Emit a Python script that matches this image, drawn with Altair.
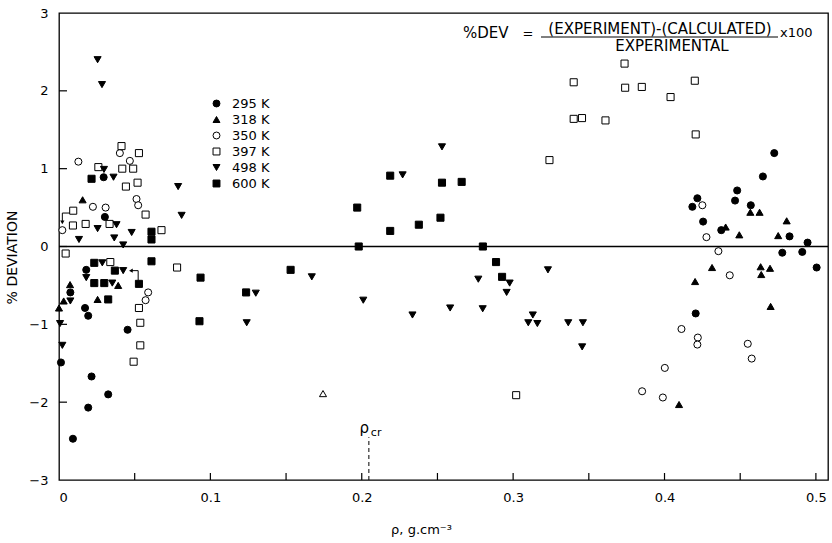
import altair as alt
import pandas as pd

# ---------------- data ----------------
labels = ["295 K", "318 K", "350 K", "397 K", "498 K", "600 K"]

t295_rho = [0.0295, 0.0303, 0.018, 0.0075, 0.0172, 0.0193, 0.0453, 0.0013, 0.0215, 0.0325, 0.0193, 0.0092,
            0.4725, 0.465, 0.448, 0.4217, 0.4184, 0.4466, 0.457, 0.4255, 0.4375, 0.4826, 0.4945, 0.4778, 0.491,
            0.5005, 0.4206]
t295_dev = [0.89, 0.38, -0.30, -0.59, -0.79, -0.89, -1.07, -1.49, -1.67, -1.90, -2.07, -2.47,
            1.20, 0.90, 0.72, 0.62, 0.51, 0.59, 0.53, 0.32, 0.21, 0.13, 0.05, -0.08, -0.07,
            -0.27, -0.86]

t318_rho = [0.0156, 0.0391, 0.0073, 0.0031, 0.0255, 0.0,
            0.4567, 0.4628, 0.4807, 0.4404, 0.4494, 0.4751, 0.4314, 0.4635, 0.4697, 0.4639, 0.4202, 0.4701, 0.4096]
t318_dev = [0.60, -0.50, -0.49, -0.70, -0.68, -0.79,
            0.44, 0.44, 0.33, 0.25, 0.15, 0.14, -0.27, -0.26, -0.28, -0.36, -0.45, -0.77, -2.03]

t350_rho = [0.0402, 0.0128, 0.0468, 0.0512, 0.0523, 0.0224, 0.0308, 0.0022, 0.0589, 0.0572,
            0.425, 0.4277, 0.4356, 0.4431, 0.4112, 0.422, 0.4217, 0.455, 0.4576, 0.4002, 0.3852, 0.3989]
t350_dev = [1.20, 1.09, 1.10, 0.61, 0.53, 0.51, 0.50, 0.21, -0.59, -0.69,
            0.53, 0.12, -0.06, -0.37, -1.06, -1.17, -1.26, -1.25, -1.44, -1.56, -1.86, -1.94]

t397_rho = [0.0413, 0.0528, 0.026, 0.0418, 0.049, 0.0442, 0.0519, 0.0094, 0.0572, 0.0092, 0.0176, 0.0334,
            0.0677, 0.0044, 0.0339, 0.078, 0.0528, 0.0537, 0.0537, 0.0493,
            0.324, 0.302, 0.3736, 0.340, 0.420, 0.374, 0.385, 0.404, 0.340, 0.3455, 0.361, 0.4206]
t397_dev = [1.29, 1.20, 1.02, 1.00, 1.00, 0.77, 0.82, 0.46, 0.41, 0.27, 0.29, 0.29,
            0.21, -0.09, -0.20, -0.27, -0.79, -0.98, -1.27, -1.48,
            1.11, -1.91, 2.35, 2.11, 2.13, 2.04, 2.05, 1.92, 1.64, 1.65, 1.62, 1.44]

t498_rho = [0.0255, 0.0284, 0.0297, 0.036, 0.0787, 0.081, 0.038, 0.0255, 0.048, 0.0132, 0.0365, 0.0424,
            0.0286, 0.018, 0.0424, 0.0352, 0.0075, 0.0007, 0.0022,
            0.167, 0.130, 0.201, 0.124, 0.227, 0.253, 0.2977, 0.2957, 0.277, 0.323, 0.2335, 0.2584,
            0.2799, 0.313, 0.310, 0.316, 0.3364, 0.3461, 0.3456]
t498_dev = [2.40, 2.08, 0.99, 0.89, 0.77, 0.40, 0.28, 0.23, 0.18, 0.09, 0.11, 0.02,
            -0.21, -0.40, -0.31, -0.47, -0.70, -0.99, -1.27,
            -0.39, -0.60, -0.69, -0.98, 0.92, 1.28, -0.47, -0.59, -0.42, -0.30, -0.88, -0.79,
            -0.80, -0.88, -0.98, -0.99, -0.98, -0.98, -1.29]

t600_rho = [0.0215, 0.0611, 0.0611, 0.0233, 0.0611, 0.0935, 0.0369, 0.0528, 0.0233, 0.0299, 0.0325, 0.0928,
            0.197, 0.198, 0.153, 0.1236, 0.2188, 0.253, 0.266, 0.2377, 0.252, 0.2188, 0.280, 0.2887, 0.2927]
t600_dev = [0.87, 0.19, 0.09, -0.21, -0.19, -0.40, -0.31, -0.48, -0.47, -0.47, -0.68, -0.96,
            0.50, 0.00, -0.30, -0.59, 0.91, 0.82, 0.83, 0.28, 0.37, 0.20, 0.00, -0.20, -0.39]

# point drawn as an open triangle (not in the legend)
open_tri_rho = [0.1744]
open_tri_dev = [-1.89]

# annotation brackets (arrows)
bracket1_rho = [0.0073, 0.0022, 0.0022]
bracket1_dev = [0.43, 0.43, 0.31]
bracket2_rho = [0.0523, 0.0523, 0.0475]
bracket2_dev = [-0.44, -0.31, -0.31]

# critical density marker
rho_cr = 0.2047

x_tick_values = [0.05, 0.10, 0.15, 0.20, 0.25, 0.30, 0.35, 0.40, 0.45, 0.50]
x_label_values = [0, 0.1, 0.2, 0.3, 0.4, 0.5]
y_tick_values = [-2, -1, 0, 1, 2]
y_label_values = [-3, -2, -1, 0, 1, 2, 3]

shapes = ["circle", "triangle-up", "circle", "square", "triangle-down", "square"]
fills = ["black", "black", "white", "white", "black", "black"]
strokes = ["black"] * 6

# ---------------- build tables ----------------
series = [(labels[0], t295_rho, t295_dev), (labels[1], t318_rho, t318_dev),
          (labels[2], t350_rho, t350_dev), (labels[3], t397_rho, t397_dev),
          (labels[4], t498_rho, t498_dev), (labels[5], t600_rho, t600_dev)]
rows = []
for name, xs, ys in series:
    for a, b in zip(xs, ys):
        rows.append({"rho": a, "dev": b, "temp": name})
df = pd.DataFrame(rows)

FONT = "DejaVu Sans"
XT = "ρ, g.cm⁻³"
YT = "% DEVIATION"
xscale = alt.Scale(domain=[0, 0.508], nice=False, zero=False)
yscale = alt.Scale(domain=[-3, 3], nice=False)
xaxis = alt.Axis(values=x_label_values, ticks=False, domain=False, grid=False,
                 labelExpr="datum.value == 0 ? '0' : format(datum.value, '.1f')",
                 labelPadding=11, labelFontSize=13, labelFont=FONT, labelColor="black",
                 titleFontSize=13, titleFont=FONT, titleFontWeight="normal", titleColor="black",
                 titleX=362, titleY=49, titleBaseline="middle", titleAlign="center")
yaxis = alt.Axis(values=y_label_values, ticks=False, domain=False, grid=False, format="d",
                 labelPadding=11, labelFontSize=13, labelFont=FONT, labelColor="black",
                 titleFontSize=14, titleFont=FONT, titleFontWeight="normal", titleColor="black",
                 titleX=-47, titleY=244, titleAngle=-90, titleBaseline="middle", titleAlign="center")


def X(f="rho"):
    return alt.X(f"{f}:Q", scale=xscale, axis=xaxis, title=XT)


def Y(f="dev"):
    return alt.Y(f"{f}:Q", scale=yscale, axis=yaxis, title=YT)


leg = alt.Legend(title=None, orient="none", legendX=151, legendY=84, labelFont=FONT,
                 labelFontSize=13, labelColor="black", symbolSize=48, symbolStrokeWidth=1,
                 rowPadding=2, labelOffset=9, padding=0)

points = alt.Chart(df).mark_point(size=50, strokeWidth=1, opacity=1).encode(
    x=X(), y=Y(),
    shape=alt.Shape("temp:N", scale=alt.Scale(domain=labels, range=shapes), legend=leg),
    fill=alt.Fill("temp:N", scale=alt.Scale(domain=labels, range=fills), legend=leg),
    stroke=alt.Stroke("temp:N", scale=alt.Scale(domain=labels, range=strokes), legend=leg),
)

open_tri = alt.Chart(pd.DataFrame({"rho": open_tri_rho, "dev": open_tri_dev})).mark_point(
    shape="triangle-up", size=50, stroke="black", strokeWidth=1, fill="white", filled=False, opacity=1
).encode(x=X(), y=Y())

zero_line = alt.Chart(pd.DataFrame({"dev": [0]})).mark_rule(color="black", strokeWidth=1.3).encode(y=Y())

xt = alt.Chart(pd.DataFrame({"rho": x_tick_values})).mark_rule(color="black", strokeWidth=1.2).encode(
    x=X(), y=alt.value(467), y2=alt.value(460))
yt = alt.Chart(pd.DataFrame({"dev": y_tick_values})).mark_rule(color="black", strokeWidth=1.2).encode(
    y=Y(), x=alt.value(0), x2=alt.value(8))

cr_df = pd.DataFrame({"rho": [rho_cr], "dev": [-3.0], "dev2": [-2.45]})
cr_line = alt.Chart(cr_df).mark_rule(color="black", strokeDash=[4, 3], strokeWidth=1).encode(
    x=X(), y=Y(), y2="dev2:Q")
cr_rho = alt.Chart(pd.DataFrame({"rho": [rho_cr - 0.003], "dev": [-2.33]})).mark_text(
    text="ρ", font=FONT, fontSize=15, color="black", baseline="middle").encode(x=X(), y=Y())
cr_sub = alt.Chart(pd.DataFrame({"rho": [rho_cr + 0.0048], "dev": [-2.39]})).mark_text(
    text="cr", font=FONT, fontSize=11, color="black", baseline="middle").encode(x=X(), y=Y())

br_rows = [{"rho": a, "dev": b, "o": i, "g": "a"} for i, (a, b) in enumerate(zip(bracket1_rho, bracket1_dev))]
br_rows += [{"rho": a, "dev": b, "o": i, "g": "b"} for i, (a, b) in enumerate(zip(bracket2_rho, bracket2_dev))]
brackets = alt.Chart(pd.DataFrame(br_rows)).mark_line(color="black", strokeWidth=1).encode(
    x=X(), y=Y(), order="o:Q", detail="g:N")
head1 = alt.Chart(pd.DataFrame({"rho": [bracket1_rho[-1]], "dev": [bracket1_dev[-1]]})).mark_point(
    shape="triangle-down", size=18, filled=True, color="black", opacity=1).encode(x=X(), y=Y())
head2 = alt.Chart(pd.DataFrame({"rho": [bracket2_rho[-1]], "dev": [bracket2_dev[-1]]})).mark_point(
    shape="triangle-left", size=18, filled=True, color="black", opacity=1).encode(x=X(), y=Y())


# equation text (top right)
def txt(s, x, y, size=14, align="left"):
    return alt.Chart(pd.DataFrame({"k": [0]})).mark_text(
        text=s, font=FONT, fontSize=size, color="black", align=align, baseline="middle"
    ).encode(x=alt.value(x), y=alt.value(y))


eq = [
    txt("%DEV", 404, 20, 15),
    txt("=", 469, 21, 13, "center"),
    txt("(EXPERIMENT)-(CALCULATED)", 601, 16, 15, "center"),
    txt("EXPERIMENTAL", 613, 33, 15, "center"),
    txt("x100", 721, 20, 13),
]
frac = alt.Chart(pd.DataFrame({"k": [0]})).mark_rule(color="black", strokeWidth=1).encode(
    x=alt.value(482), x2=alt.value(719), y=alt.value(24))

chart = alt.layer(
    zero_line, xt, yt, cr_line, brackets, head1, head2, points, open_tri, cr_rho, cr_sub, frac, *eq
).properties(
    width=769, height=467, autosize="none",
    padding={"left": 59, "top": 13, "right": 4, "bottom": 63},
    background="white",
).configure_view(stroke="black", strokeWidth=1.3)

chart.save("out.html", embed_options={"renderer": "svg", "actions": False})
